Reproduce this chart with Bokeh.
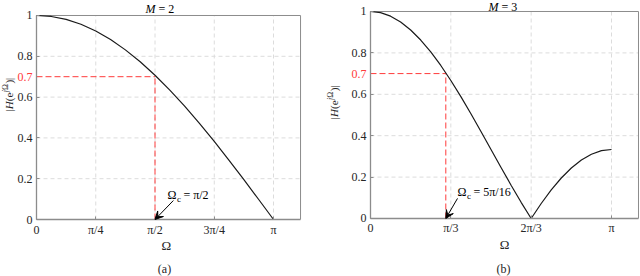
import numpy as np
from bokeh.plotting import figure
from bokeh.layouts import row
from bokeh.models import (Label, Arrow, VeeHead, FixedTicker, CustomJSTickFormatter, Range1d)
from bokeh.embed import file_html
from bokeh.resources import INLINE

# ---------------- data ----------------
# Panel (a): M = 2, Omega expressed in units of pi/4
omega_a = [0.0, 0.25, 0.5, 0.75, 1.0, 1.25, 1.5, 1.75, 2.0,
           2.25, 2.5, 2.75, 3.0, 3.25, 3.5, 3.75, 4.0]
mag_a = [1.0, 0.9952, 0.9808, 0.9569, 0.9239, 0.8819, 0.8315, 0.7730, 0.7071,
         0.6344, 0.5556, 0.4714, 0.3827, 0.2903, 0.1951, 0.0980, 0.0]
xticks_a = [0, 1, 2, 3, 4]
xlabels_a = ["0", "π/4", "π/2", "3π/4", "π"]
cutoff_a = 2.0          # pi/2 in pi/4 units
cutoff_text_a = "= π/2"
title_a = "= 2"
caption_a = "(a)"

# Panel (b): M = 3, Omega expressed in units of pi/3
omega_b = [0.0, 0.125, 0.25, 0.375, 0.5, 0.625, 0.75, 0.875, 1.0,
           1.125, 1.25, 1.375, 1.5, 1.625, 1.75, 1.875, 2.0,
           2.125, 2.25, 2.375, 2.5, 2.625, 2.75, 2.875, 3.0]
mag_b = [1.0, 0.9943, 0.9773, 0.9493, 0.9107, 0.8622, 0.8047, 0.7392, 0.6667,
         0.5885, 0.5059, 0.4204, 0.3333, 0.2463, 0.1608, 0.0782, 0.0,
         0.0725, 0.1381, 0.1956, 0.2440, 0.2826, 0.3106, 0.3276, 0.3333]
xticks_b = [0, 1, 2, 3]
xlabels_b = ["0", "π/3", "2π/3", "π"]
cutoff_b = 0.9375       # 5pi/16 in pi/3 units
cutoff_text_b = "= 5π/16"
title_b = "= 3"
caption_b = "(b)"

yticks = [0, 0.2, 0.4, 0.6, 0.8, 1]
level = 0.7

FONT = "Liberation Serif"
AX = "#8c8c8c"
TXT = "#262626"
RED = "#ff3b3b"
GRID = "#dcdcdc"


def lab(**kw):
    kw.setdefault("text_font", FONT)
    kw.setdefault("text_font_size", "12px")
    kw.setdefault("text_color", "black")
    return Label(**kw)


def panel(omega, mag, xticks, xlabels, cutoff, cut_text, ttl, caption, cfg):
    p = figure(width=320, height=276,
               x_range=Range1d(*cfg["xr"]), y_range=Range1d(*cfg["yr"]),
               output_backend="svg", toolbar_location=None, title=None,
               min_border_left=0, min_border_right=0, min_border_top=0, min_border_bottom=0)
    p.background_fill_color = "white"
    p.border_fill_color = "white"
    p.outline_line_color = None
    p.grid.visible = False
    xbox = cfg["xbox"]

    # dashed grid (inside the axes box only)
    gx = [t for t in xticks if t != 0]
    p.segment(x0=gx, y0=[0] * len(gx), x1=gx, y1=[1] * len(gx),
              line_color=GRID, line_dash="4 3", line_width=1)
    gy = [t for t in yticks if 0 < t < 1]
    p.segment(x0=[0] * len(gy), y0=gy, x1=[xbox] * len(gy), y1=gy,
              line_color=GRID, line_dash="4 3", line_width=1)

    # box top / right edges
    p.line([0, xbox, xbox], [1, 1, 0], line_color=AX, line_width=1)

    # axes placed at the data origin
    xa, ya = p.xaxis[0], p.yaxis[0]
    xa.fixed_location = 0
    ya.fixed_location = 0
    xa.bounds = (0, xbox)
    ya.bounds = (0, 1)
    xa.ticker = FixedTicker(ticks=xticks)
    xa.formatter = CustomJSTickFormatter(
        args=dict(labs=xlabels, tks=xticks),
        code="const i = tks.indexOf(tick); return i >= 0 ? labs[i] : '';")
    ya.ticker = FixedTicker(ticks=yticks)
    ya.formatter = CustomJSTickFormatter(code="return String(Math.round(tick*10)/10);")
    for ax in (xa, ya):
        ax.axis_line_color = AX
        ax.axis_line_width = 1.3
        ax.major_tick_in = 3
        ax.major_tick_out = 0
        ax.major_tick_line_color = AX
        ax.minor_tick_line_color = None
        ax.major_label_text_font = FONT
        ax.major_label_text_font_size = "12px"
        ax.major_label_text_color = TXT
    ya.major_label_standoff = 4
    xa.major_label_standoff = 3

    # cutoff markers
    p.line([0, cutoff], [level, level], color=RED, line_dash="6 3", line_width=1)
    p.line([cutoff, cutoff], [0, level], color=RED, line_dash="6 3", line_width=1)
    p.add_layout(lab(x=0, y=level, x_offset=-4, text="0.7", text_align="right",
                     text_baseline="middle", text_color=RED))

    # magnitude response
    p.line(omega, mag, color="#1a1a1a", line_width=1.2)

    # annotation arrow and text
    sx, sy = cfg["arrow_start"]
    p.add_layout(Arrow(x_start=sx, y_start=sy, x_end=cutoff, y_end=0,
                       line_color="black", line_width=1,
                       end=VeeHead(size=8, fill_color="black", line_color="black")))
    tx, ty = cfg["text_pos"]
    p.add_layout(lab(x=tx, y=ty, text="Ω", text_baseline="middle"))
    p.add_layout(lab(x=tx, y=ty, x_offset=9.5, y_offset=-4, text="c", text_baseline="middle",
                     text_font_size="9px"))
    p.add_layout(lab(x=tx, y=ty, x_offset=16, text=cut_text, text_baseline="middle"))

    # title "M = n"
    cx, cy = cfg["title_pos"]
    p.add_layout(lab(x=cx, y=cy, x_offset=-15, text="M", text_baseline="middle",
                     text_font_style="italic", text_font_size="12px"))
    p.add_layout(lab(x=cx, y=cy, x_offset=-2, text=ttl, text_baseline="middle",
                     text_font_size="12px"))

    # x-axis label and caption
    ox, oy = cfg["xlabel_pos"]
    p.add_layout(lab(x=ox, y=oy, text="Ω", text_align="center", text_baseline="middle",
                     text_font_size="13px", text_color=TXT))
    qx, qy = cfg["caption_pos"]
    p.add_layout(lab(x=qx, y=qy, text=caption, text_align="center", text_baseline="middle",
                     text_font_size="12px", text_color=TXT))

    # y-axis label |H(e^{jΩ})| built from rotated pieces
    pieces = [("|", 0.0, 11, "normal", 0),
              ("H", 2.2, 11, "italic", 0),
              ("(e", 10.1, 11, "normal", 0),
              ("j", 19.1, 8, "italic", -3.5),
              ("Ω", 21.3, 8, "normal", -3.5),
              (")|", 27.8, 11, "normal", 0)]
    for txt, off, fs, style, sup in pieces:
        p.add_layout(lab(x=0, y=cfg["ylab_y"], x_offset=cfg["ylab_off"] + sup, y_offset=off,
                         text=txt, angle=np.pi / 2, text_align="left", text_baseline="middle",
                         text_font_style=style, text_font_size=f"{fs}px", text_color=TXT))
    return p


cfg_a = dict(xr=(-0.6076, 4.793), yr=(-0.2794, 1.0735), xbox=4.456,
             arrow_start=(2.31, 0.093), text_pos=(2.21, 0.118),
             title_pos=(2.093, 1.034), xlabel_pos=(2.19, -0.127), caption_pos=(2.16, -0.245),
             ylab_off=-28, ylab_y=0.53)
cfg_b = dict(xr=(-0.6224, 3.361), yr=(-0.2802, 1.0531), xbox=3.336,
             arrow_start=(1.083, 0.097), text_pos=(1.083, 0.126),
             title_pos=(1.656, 1.020), xlabel_pos=(1.668, -0.128), caption_pos=(1.656, -0.242),
             ylab_off=-36, ylab_y=0.48)

p1 = panel(omega_a, mag_a, xticks_a, xlabels_a, cutoff_a, cutoff_text_a, title_a, caption_a, cfg_a)
p2 = panel(omega_b, mag_b, xticks_b, xlabels_b, cutoff_b, cutoff_text_b, title_b, caption_b, cfg_b)

layout = row(p1, p2)
open("out.html", "w").write(file_html(layout, INLINE))
